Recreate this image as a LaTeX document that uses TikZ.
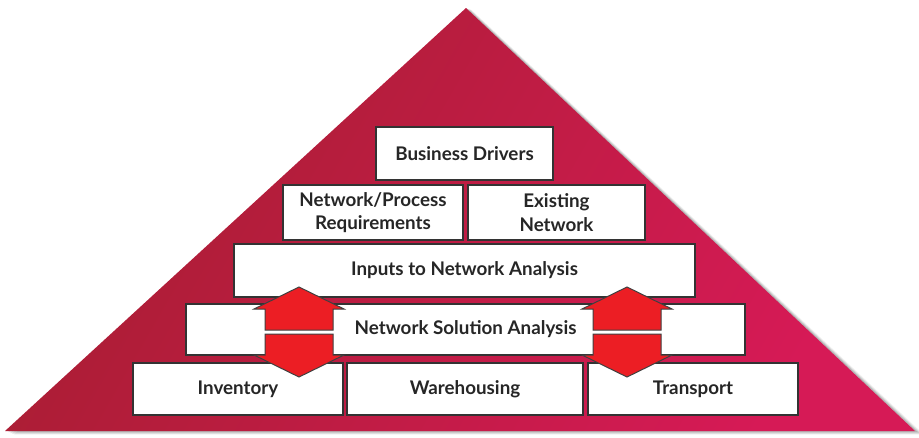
\documentclass[tikz,border=0pt]{standalone}
\usepackage{fontspec}
\setmainfont{Lato}
\begin{document}
\begin{tikzpicture}[x=1pt,y=-1pt,
  box/.style={draw=black!80,line width=1.6pt,fill=white,inner sep=0pt,align=center,
    font=\fontsize{18.8}{23.5}\selectfont\bfseries,text=black!85},
  arrowpart/.style={fill=arrowred,draw=black!75,line width=1pt,line join=miter}]
\definecolor{trileft}{RGB}{168,30,50}
\definecolor{triright}{RGB}{214,26,86}
\definecolor{arrowred}{RGB}{236,30,36}
\useasboundingbox (0,0) rectangle (919,437);
% shadow
\foreach \d/\o in {9/0.05,7/0.07,5/0.09,3/0.12}{
  \fill[black,opacity=\o] (5+\d,431+\d*0.4) -- (466+\d*0.6,8+\d*0.2) -- (915+\d,431+\d*0.4) -- cycle;
}
% triangle
\shade[left color=trileft,right color=triright,shading angle=60] (5,431) coordinate (bl) -- (466,8) coordinate (apex) -- (915,431) coordinate (br) -- cycle;
% boxes
\node[box,minimum width=177,minimum height=53] (bd) at (464.5,153.5) {Business Drivers};
\node[box,minimum width=180,minimum height=55] (npr) at (373,212.5) {Network/Process\\Requirements};
\node[box,minimum width=177,minimum height=55] (en) at (556.5,212.5) {Existing\\Network};
\node[box,minimum width=461,minimum height=53] (ina) at (464.5,270.5) {Inputs to Network Analysis};
\node[box,minimum width=559,minimum height=51] (nsa) at (465.5,329.5) {Network Solution Analysis};
\node[box,minimum width=210,minimum height=52] (inv) at (238,389) {Inventory};
\node[box,minimum width=236,minimum height=52] (wh) at (465,389) {Warehousing};
\node[box,minimum width=210,minimum height=52] (tr) at (693,389) {Transport};
% arrows
\foreach \cx/\nm in {299/la,627/ra}{
  \coordinate (\nm) at (\cx,332);
  \draw[arrowpart] ([shift={(0,-45)}]\nm) -- ++(45,22) -- ++(-11,0) -- ++(0,21) -- ++(-68,0) -- ++(0,-21) -- ++(-11,0) -- cycle;
  \draw[arrowpart] ([shift={(-34,2)}]\nm) -- ++(68,0) -- ++(0,21) -- ++(11,0) -- ++(-45,22) -- ++(-45,-22) -- ++(11,0) -- cycle;
}
\end{tikzpicture}
\end{document}
